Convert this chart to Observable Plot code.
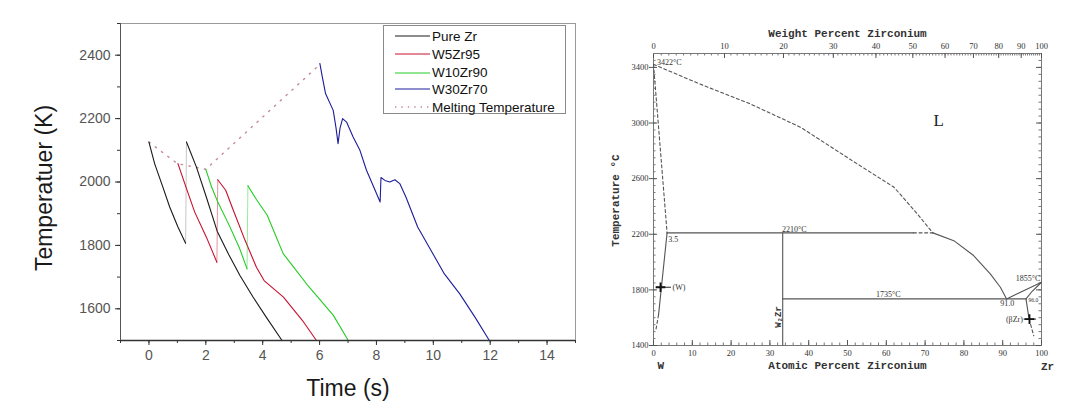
<!DOCTYPE html>
<html><head><meta charset="utf-8">
<script src="https://cdn.jsdelivr.net/npm/d3@7"></script>
<script src="https://cdn.jsdelivr.net/npm/@observablehq/plot@0.6"></script>
<style>
body{margin:0;background:#fff;}
#wrap{position:relative;width:1077px;height:419px;display:flex;}
#left{width:600px;height:419px;}
#right{width:477px;height:419px;}
#legend{position:absolute;left:383px;top:25px;width:181px;height:87px;border:1px solid #8a8a8a;background:#fff;font:13.5px "Liberation Sans",Arial,sans-serif;color:#111;}
.row{position:absolute;left:0;height:16px;display:flex;align-items:center;white-space:nowrap;}
.row svg{margin-left:11px;margin-right:2px;}
</style></head><body>
<div id="wrap"><div id="left"></div><div id="right"></div><div id="legend"></div></div>
<script>
// ---------- LEFT PANEL DATA (time s, temperature K) ----------
const timeTicks = [0, 2, 4, 6, 8, 10, 12, 14];
const tempTicks = [1600, 1800, 2000, 2200, 2400];
const seriesNames = ["Pure Zr", "W5Zr95", "W10Zr90", "W30Zr70", "Melting Temperature"];
const seriesColors = ["#1a1a1a", "#c8102e", "#22cc22", "#1c1c9c", "#c48a96"];

const pureZr = [[0,2126],[0.2,2058],[0.49,1984],[0.73,1921],[1.02,1858],[1.29,1807],[1.32,2126],[1.67,2047],[2.02,1952],[2.4,1845],[2.8,1772],[3.2,1705],[3.66,1637],[4.13,1573],[4.68,1500]];
const w5Zr95 = [[1.02,2058],[1.26,1995],[1.61,1905],[2.02,1826],[2.39,1747],[2.42,2007],[2.7,1974],[2.97,1910],[3.38,1816],[3.78,1731],[4.05,1689],[4.73,1637],[5.4,1563],[5.89,1500]];
const w10Zr90 = [[2.0,2040],[2.2,1985],[2.43,1935],[2.84,1860],[3.19,1790],[3.45,1726],[3.48,1988],[3.78,1945],[4.16,1895],[4.72,1774],[5.0,1742],[5.6,1672],[6.48,1580],[7.01,1500]];
const w30Zr70 = [[6.01,2374],[6.1,2330],[6.21,2279],[6.48,2226],[6.58,2170],[6.65,2121],[6.72,2170],[6.81,2200],[6.95,2189],[7.18,2142],[7.42,2100],[7.65,2037],[7.9,1985],[8.13,1937],[8.16,2014],[8.3,2005],[8.47,2000],[8.65,2007],[8.82,1995],[9.04,1952],[9.45,1858],[9.85,1795],[10.39,1710],[10.93,1647],[11.47,1573],[11.97,1500]];
const jumpIndex = [6, 5, 6, null]; // first point after the re-heating jump
const melting = [[0,2126],[1.0,2058],[2.0,2040],[6.0,2370]];

// ---------- RIGHT PANEL DATA (atomic % Zr, °C) ----------
const atTicks = [0,10,20,30,40,50,60,70,80,90,100];
const wtTicks = [0,10,20,30,40,50,60,70,80,90,100];
const tempTicksR = [1400,1800,2200,2600,3000,3400];
const liqDashed = [[0,3422],[12,3280],[25,3137],[38,2968],[52.5,2706],[62,2538],[68,2346],[72,2210]];
const liqSolid = [[72,2210],[77.4,2154],[82.5,2047],[86.8,1915],[89.4,1819],[91,1735]];
const wSolidusDashed = [[0,3422],[3.5,2210]];
const wSolvus = [[3.5,2210],[1.3,1620]];
const wSolvusDashed = [[1.3,1620],[0.6,1510]];
const peritectic = [[3.5,2210],[67,2210]];
const peritecticDashed = [[67,2210],[72,2210]];
const w2zrLine = [[33.3,2210],[33.3,1400]];
const eutectic = [[33.3,1735],[96,1735]];
const bzrLiquidus = [[91,1735],[100,1855]];
const bzrSolidus = [[96,1735],[97.6,1790],[100,1855]];
const bzrSolvus = [[96,1735],[96.8,1590]];
const bzrSolvusDashed = [[96.8,1590],[98,1470]];
const wLeader = [[0.8,1819],[4.4,1819]];
const bzrLeader = [[95.5,1590],[98.5,1590]];
const crossMarks = [[1.8,1819],[96.9,1590]];
const labelsStart = [[0.9,3433,"3422°C"],[3.8,2165,"3.5"],[4.9,1819,"(W)"],[33.1,2238,"2210°C"]];
const labelsMid = [[60.5,1766,"1735°C"],[91.2,1700,"91.0"]];
const labelsEnd = [[99.7,1880,"1855°C"],[95.2,1590,"(βZr)"]];
const smallLabels = [[97.9,1722,"96.0"]];
const phaseL = [[73.5,3017,"L"]];
const w2zrLabel = [[32.1,1605,"W₂Zr"]];

// ---------- LEFT PLOT ----------
const px = d => d[0], py = d => d[1];
const seriesData = [pureZr, w5Zr95, w10Zr90, w30Zr70];
const seriesMarks = [];
seriesData.forEach((s, i) => {
  const j = jumpIndex[i];
  if (j == null) {
    seriesMarks.push(Plot.line(s, {x: px, y: py, stroke: seriesColors[i], strokeWidth: 1.1}));
  } else {
    seriesMarks.push(Plot.line(s.slice(j - 1, j + 1), {x: px, y: py, stroke: seriesColors[i], strokeWidth: 1, strokeOpacity: i === 0 ? 0.25 : 0.45}));
    seriesMarks.push(Plot.line(s.slice(0, j), {x: px, y: py, stroke: seriesColors[i], strokeWidth: 1.1}));
    seriesMarks.push(Plot.line(s.slice(j), {x: px, y: py, stroke: seriesColors[i], strokeWidth: 1.1}));
  }
});
const left = Plot.plot({
  width: 600, height: 419,
  marginLeft: 120, marginRight: 25, marginTop: 23, marginBottom: 79,
  x: {domain: [-1, 15]},
  y: {domain: [1500, 2500]},
  style: {fontFamily: "'Liberation Sans', Arial, sans-serif", background: "#fff", overflow: "visible"},
  marks: [
    Plot.frame({stroke: "#9a9a9a"}),
    Plot.line(melting, {x: px, y: py, stroke: seriesColors[4], strokeWidth: 1.4, strokeDasharray: "1.4,6.5"}),
    ...seriesMarks,
    Plot.ruleY([1500], {stroke: "#333", strokeWidth: 1.6}),
    Plot.ruleX([-1], {stroke: "#555"}),
    Plot.axisX(timeTicks, {tickSize: 5, tickPadding: 5, fontSize: 14, fill: "#555", stroke: "#333", label: null, tickFormat: d => String(d)}),
    Plot.axisX(d3.range(-1, 16, 1), {tickSize: 3, tickFormat: () => "", stroke: "#333", label: null}),
    Plot.axisY(tempTicks, {tickSize: 5, tickPadding: 5, fontSize: 14, fill: "#555", stroke: "#333", label: null, tickFormat: d => String(d)}),
    Plot.axisY(d3.range(1500, 2501, 100), {tickSize: 3, tickFormat: () => "", stroke: "#333", label: null}),
    Plot.text(["Time (s)"], {text: d => d, frameAnchor: "bottom", dy: 48, lineAnchor: "middle", fontSize: 23, fill: "#1a1a1a"}),
    Plot.text(["Temperatuer (K)"], {text: d => d, frameAnchor: "left", dx: -76, dy: 6, rotate: -90, textAnchor: "middle", lineAnchor: "middle", fontSize: 23, fill: "#1a1a1a"})
  ]
});
document.getElementById("left").append(left);

// legend
const legend = document.getElementById("legend");
const rowTops = [2, 20, 38.5, 55, 73];
seriesNames.forEach((name, i) => {
  const row = document.createElement("div");
  row.className = "row";
  row.style.top = rowTops[i] + "px";
  const dash = i === 4 ? 'stroke-dasharray="1.4,5"' : "";
  row.innerHTML = `<svg width="35" height="10"><line x1="0" y1="5" x2="35" y2="5" stroke="${seriesColors[i]}" stroke-width="${i===4?1.4:1}" ${dash}/></svg><span>${name}</span>`;
  legend.append(row);
});

// ---------- RIGHT PLOT ----------
const MZr = 91.224, MW = 183.84;
const wtToAt = w => (w / MZr) / ((w / MZr) + ((100 - w) / MW)) * 100;
const RW = 477, RH = 419, RL = 53, RR = 36, RT = 53, RB = 74;
const fw = RW - RL - RR, fh = RH - RT - RB;
const gray = "#555";
const dash = "3,2.6";
const serif = "'Liberation Serif', 'DejaVu Serif', serif";
const mono = "'Liberation Mono', 'DejaVu Sans Mono', monospace";
const ln = (data, dashed) => Plot.line(data, {x: px, y: py, stroke: gray, strokeWidth: 1.1, strokeDasharray: dashed ? dash : null});
const right = Plot.plot({
  width: RW, height: RH,
  marginLeft: RL, marginRight: RR, marginTop: RT, marginBottom: RB,
  x: {domain: [0, 100], axis: null},
  y: {domain: [1400, 3500], axis: null},
  style: {fontFamily: serif, background: "#fff", overflow: "visible"},
  marks: [
    Plot.frame({stroke: "#777"}),
    Plot.tickX(d3.range(0, 101, 2), {x: d => d, insetTop: fh - 2.5, stroke: "#777"}),
    Plot.tickX(atTicks, {x: d => d, insetTop: fh - 5, stroke: "#555"}),
    Plot.tickX(d3.range(0, 101, 1).map(wtToAt), {x: d => d, insetBottom: fh - 2.5, stroke: "#777"}),
    Plot.tickX(wtTicks.map(wtToAt), {x: d => d, insetBottom: fh - 5, stroke: "#555"}),
    Plot.tickY(d3.range(1400, 3501, 50), {y: d => d, insetRight: fw - 2.5, stroke: "#777"}),
    Plot.tickY(tempTicksR, {y: d => d, insetLeft: -4, insetRight: fw - 4, stroke: "#555"}),
    Plot.tickY(d3.range(1400, 3501, 50), {y: d => d, insetLeft: fw - 2.5, stroke: "#777"}),
    Plot.tickY(tempTicksR, {y: d => d, insetLeft: fw - 5, stroke: "#555"}),
    Plot.text(atTicks, {x: d => d, text: d => String(d), frameAnchor: "bottom", dy: 8, lineAnchor: "middle", fontSize: 8.5, fill: "#333"}),
    Plot.text(wtTicks, {x: d => wtToAt(d), text: d => String(d), frameAnchor: "top", dy: -7, lineAnchor: "middle", fontSize: 8.5, fill: "#333"}),
    Plot.text(tempTicksR, {y: d => d, text: d => String(d), frameAnchor: "left", dx: -5, textAnchor: "end", lineAnchor: "middle", fontSize: 8.5, fill: "#333"}),
    Plot.text(["Atomic Percent Zirconium"], {text: d => d, frameAnchor: "bottom", dy: 20, lineAnchor: "middle", fontFamily: mono, fontWeight: "bold", fontSize: 11, fill: "#333"}),
    Plot.text(["Weight Percent Zirconium"], {text: d => d, frameAnchor: "top", dy: -20, lineAnchor: "middle", fontFamily: mono, fontWeight: "bold", fontSize: 11, fill: "#333"}),
    Plot.text(["Temperature °C"], {text: d => d, frameAnchor: "left", dx: -38, dy: 1, rotate: -90, textAnchor: "middle", lineAnchor: "middle", fontFamily: mono, fontWeight: "bold", fontSize: 11, fill: "#333"}),
    Plot.text(["W"], {text: d => d, frameAnchor: "bottom-left", dx: 4, dy: 20, lineAnchor: "middle", fontFamily: mono, fontWeight: "bold", fontSize: 11, fill: "#333"}),
    Plot.text(["Zr"], {text: d => d, frameAnchor: "bottom-right", dx: 6, dy: 21, textAnchor: "middle", lineAnchor: "middle", fontFamily: mono, fontWeight: "bold", fontSize: 11, fill: "#333"}),
    ln(liqDashed, true), ln(liqSolid, false),
    ln(wSolidusDashed, true), ln(wSolvus, false), ln(wSolvusDashed, true),
    ln(peritectic, false), ln(peritecticDashed, true),
    ln(w2zrLine, false), ln(eutectic, false),
    ln(bzrLiquidus, false), ln(bzrSolidus, false),
    ln(bzrSolvus, false), ln(bzrSolvusDashed, true),
    Plot.line(wLeader, {x: px, y: py, stroke: "#222", strokeWidth: 1}),
    Plot.line(bzrLeader, {x: px, y: py, stroke: "#222", strokeWidth: 1}),
    Plot.dot(crossMarks, {x: px, y: py, symbol: "plus", r: 3.2, stroke: "#111", strokeWidth: 1.8}),
    Plot.text(labelsStart, {x: px, y: py, text: d => d[2], textAnchor: "start", fontSize: 8, fill: "#333"}),
    Plot.text(labelsMid, {x: px, y: py, text: d => d[2], textAnchor: "middle", fontSize: 8, fill: "#333"}),
    Plot.text(labelsEnd, {x: px, y: py, text: d => d[2], textAnchor: "end", fontSize: 8, fill: "#333"}),
    Plot.text(smallLabels, {x: px, y: py, text: d => d[2], textAnchor: "middle", fontSize: 5.5, fill: "#333"}),
    Plot.text(phaseL, {x: px, y: py, text: d => d[2], textAnchor: "middle", fontSize: 17, fill: "#222"}),
    Plot.text(w2zrLabel, {x: px, y: py, text: d => d[2], rotate: -90, textAnchor: "middle", fontFamily: mono, fontWeight: "bold", fontSize: 9, fill: "#333"})
  ]
});
document.getElementById("right").append(right);
</script>
</body></html>
